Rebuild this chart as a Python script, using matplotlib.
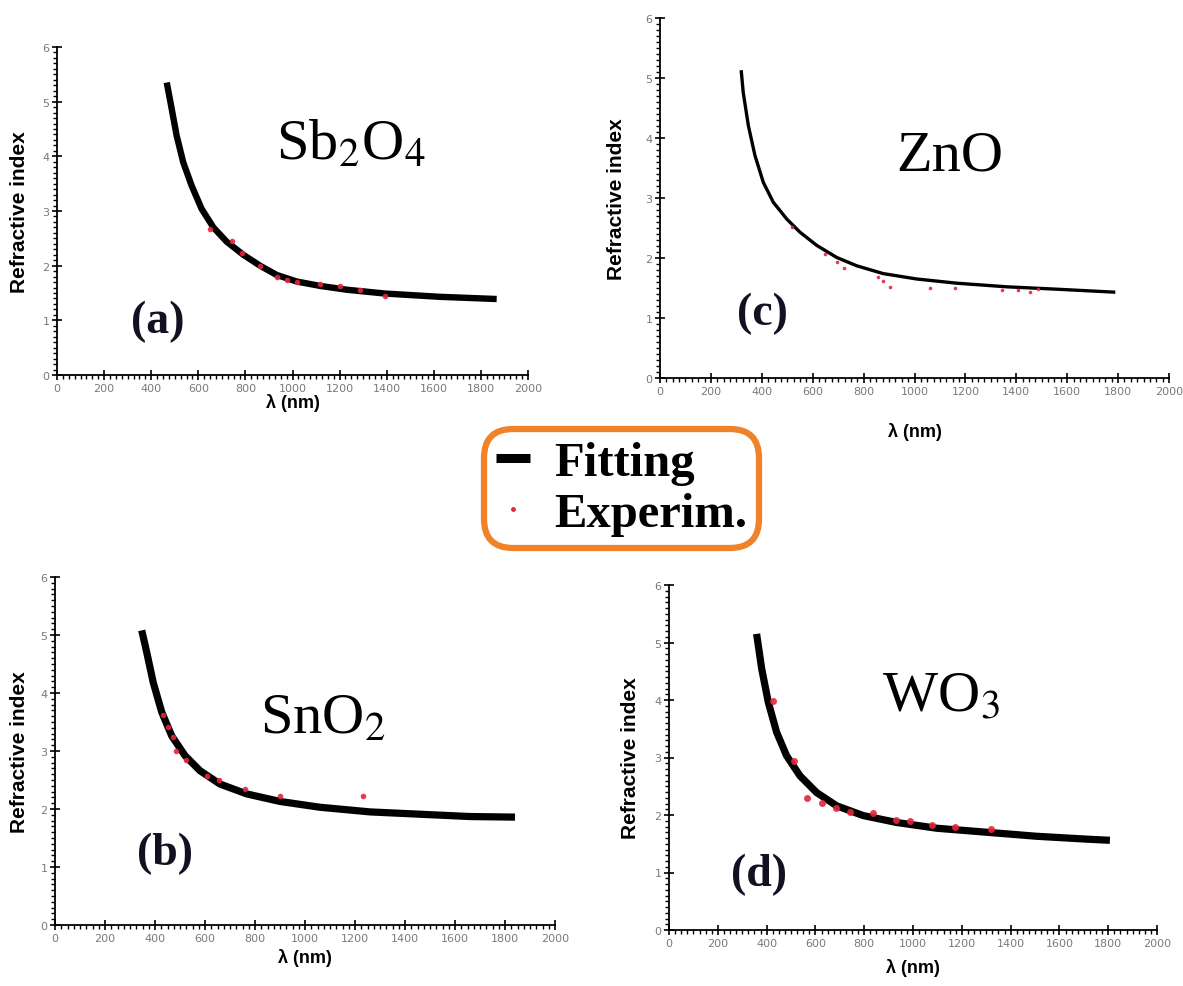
import numpy as np
import matplotlib
matplotlib.use("Agg")
import matplotlib.pyplot as plt
from matplotlib.lines import Line2D
from matplotlib.ticker import MultipleLocator

plt.rcParams['mathtext.fontset'] = 'stix'

# (a) Sb2O4
lam_a_fit = [466, 487, 508, 536, 572, 614, 664, 720, 791, 862, 933, 1018, 1117, 1230, 1393, 1626, 1867]
n_a_fit = [5.35, 4.87, 4.38, 3.89, 3.46, 3.04, 2.70, 2.44, 2.20, 2.00, 1.83, 1.71, 1.63, 1.56, 1.49, 1.43, 1.39]
lam_a_exp = [650, 742, 784, 862, 933, 975, 1018, 1117, 1202, 1287, 1393]
n_a_exp = [2.67, 2.46, 2.24, 2.00, 1.79, 1.74, 1.70, 1.66, 1.62, 1.56, 1.45]

# (b) SnO2
lam_b_fit = [347, 367, 393, 427, 467, 520, 580, 660, 767, 900, 1060, 1260, 1460, 1660, 1840]
n_b_fit = [5.08, 4.70, 4.18, 3.67, 3.26, 2.92, 2.66, 2.43, 2.26, 2.13, 2.03, 1.95, 1.91, 1.87, 1.86]
lam_b_exp = [432, 452, 471, 484, 523, 606, 657, 760, 900, 1231]
n_b_exp = [3.62, 3.42, 3.25, 3.00, 2.85, 2.57, 2.50, 2.34, 2.22, 2.23]

# (c) ZnO
lam_c_fit = [319, 327, 347, 373, 406, 445, 498, 550, 616, 694, 773, 877, 1009, 1166, 1362, 1559, 1789]
n_c_fit = [5.13, 4.76, 4.21, 3.71, 3.26, 2.93, 2.65, 2.43, 2.21, 2.01, 1.87, 1.74, 1.65, 1.58, 1.52, 1.48, 1.43]
lam_c_exp = [517, 648, 694, 723, 858, 876, 904, 1061, 1159, 1343, 1407, 1454, 1486]
n_c_exp = [2.51, 2.07, 1.93, 1.83, 1.68, 1.62, 1.52, 1.50, 1.50, 1.46, 1.47, 1.44, 1.48]

# (d) WO3
lam_d_fit = [359, 380, 407, 441, 482, 537, 605, 687, 796, 933, 1097, 1302, 1507, 1712, 1807]
n_d_fit = [5.15, 4.54, 3.96, 3.44, 3.03, 2.68, 2.39, 2.16, 1.99, 1.87, 1.77, 1.70, 1.63, 1.58, 1.56]
lam_d_exp = [428, 512, 567, 626, 684, 742, 837, 929, 988, 1076, 1172, 1318]
n_d_exp = [3.99, 2.94, 2.29, 2.21, 2.13, 2.06, 2.04, 1.91, 1.90, 1.83, 1.79, 1.76]

W, H = 1183, 987
fig = plt.figure(figsize=(W / 100, H / 100), dpi=100)

red = '#e3263c'
serif = 'Liberation Serif'
sans = 'Liberation Sans'

# left, right, top, bottom in pixels; curve width; marker size; text and label positions
panels = [
    dict(box=(57, 528, 48, 376), fx=lam_a_fit, fy=n_a_fit, ex=lam_a_exp, ey=n_a_exp,
         lw=4.6, ms=4.0, name=r'Sb$_2$O$_4$', name_xy=(1250, 3.97), tag='(a)', tag_xy=(428, 0.99),
         ylab_dx=37, xlab_dy=27),
    dict(box=(55, 555, 578, 926), fx=lam_b_fit, fy=n_b_fit, ex=lam_b_exp, ey=n_b_exp,
         lw=5.2, ms=4.0, name=r'SnO$_2$', name_xy=(1071, 3.33), tag='(b)', tag_xy=(440, 1.25),
         ylab_dx=35, xlab_dy=32),
    dict(box=(660, 1169, 19, 379), fx=lam_c_fit, fy=n_c_fit, ex=lam_c_exp, ey=n_c_exp,
         lw=2.4, ms=2.6, name='ZnO', name_xy=(1139, 3.48), tag='(c)', tag_xy=(401, 1.09),
         ylab_dx=44, xlab_dy=53),
    dict(box=(669, 1157, 586, 931), fx=lam_d_fit, fy=n_d_fit, ex=lam_d_exp, ey=n_d_exp,
         lw=5.2, ms=5.0, name=r'WO$_3$', name_xy=(1116, 3.81), tag='(d)', tag_xy=(367, 0.97),
         ylab_dx=39, xlab_dy=37),
]

for p in panels:
    l, r, t, b = p['box']
    ax = fig.add_axes([l / W, 1 - b / H, (r - l) / W, (b - t) / H])
    ax.plot(p['fx'], p['fy'], '-', color='black', lw=p['lw'], solid_capstyle='butt',
            solid_joinstyle='round', zorder=2)
    ax.plot(p['ex'], p['ey'], 'o', color=red, ms=p['ms'], mec='none', zorder=3, alpha=0.9)
    ax.set_xlim(0, 2000)
    ax.set_ylim(0, 6)
    ax.xaxis.set_major_locator(MultipleLocator(200))
    ax.xaxis.set_minor_locator(MultipleLocator(25))
    ax.yaxis.set_major_locator(MultipleLocator(1))
    ax.yaxis.set_minor_locator(MultipleLocator(0.1))
    for s in ['top', 'right']:
        ax.spines[s].set_visible(False)
    for s in ['left', 'bottom']:
        ax.spines[s].set_linewidth(1.3)
    ax.tick_params(which='major', direction='inout', length=7, width=1.2,
                   labelsize=8, labelcolor='#7a7a7a', pad=2)
    ax.tick_params(which='minor', direction='out', length=3, width=1.0)
    ax.set_ylabel('Refractive index', fontfamily=sans, fontweight='bold', fontsize=15, va='center')
    ax.yaxis.set_label_coords(-p['ylab_dx'] / (r - l), 0.5)
    ax.set_xlabel(r'λ (nm)', fontfamily=sans, fontweight='bold', fontsize=13, va='center')
    ax.xaxis.set_label_coords(0.5, -p['xlab_dy'] / (b - t))
    ax.text(p['name_xy'][0], p['name_xy'][1], p['name'], fontfamily=serif, fontsize=42,
            ha='center', va='baseline')
    ax.text(p['tag_xy'][0], p['tag_xy'][1], p['tag'], fontfamily=serif, fontweight='bold',
            fontsize=33, ha='center', va='center', color='#111122')

handles = [Line2D([], [], color='black', lw=6.5, solid_capstyle='butt'),
           Line2D([], [], ls='none', marker='o', color=red, ms=3.5, mec='none')]
leg = fig.legend(handles, ['Fitting', 'Experim.'], loc='center',
                 bbox_to_anchor=(621.5 / W, 1 - 489.5 / H),
                 prop={'family': serif, 'weight': 'bold', 'size': 35},
                 handlelength=0.7, handletextpad=0.5, labelspacing=0.15,
                 borderpad=0.25, borderaxespad=0, fancybox=True, framealpha=1)
frame = leg.get_frame()
frame.set_edgecolor('#f08228')
frame.set_linewidth(4.5)
frame.set_boxstyle('round,pad=0,rounding_size=0.6')

fig.savefig('out.png', dpi=100, facecolor='white')
